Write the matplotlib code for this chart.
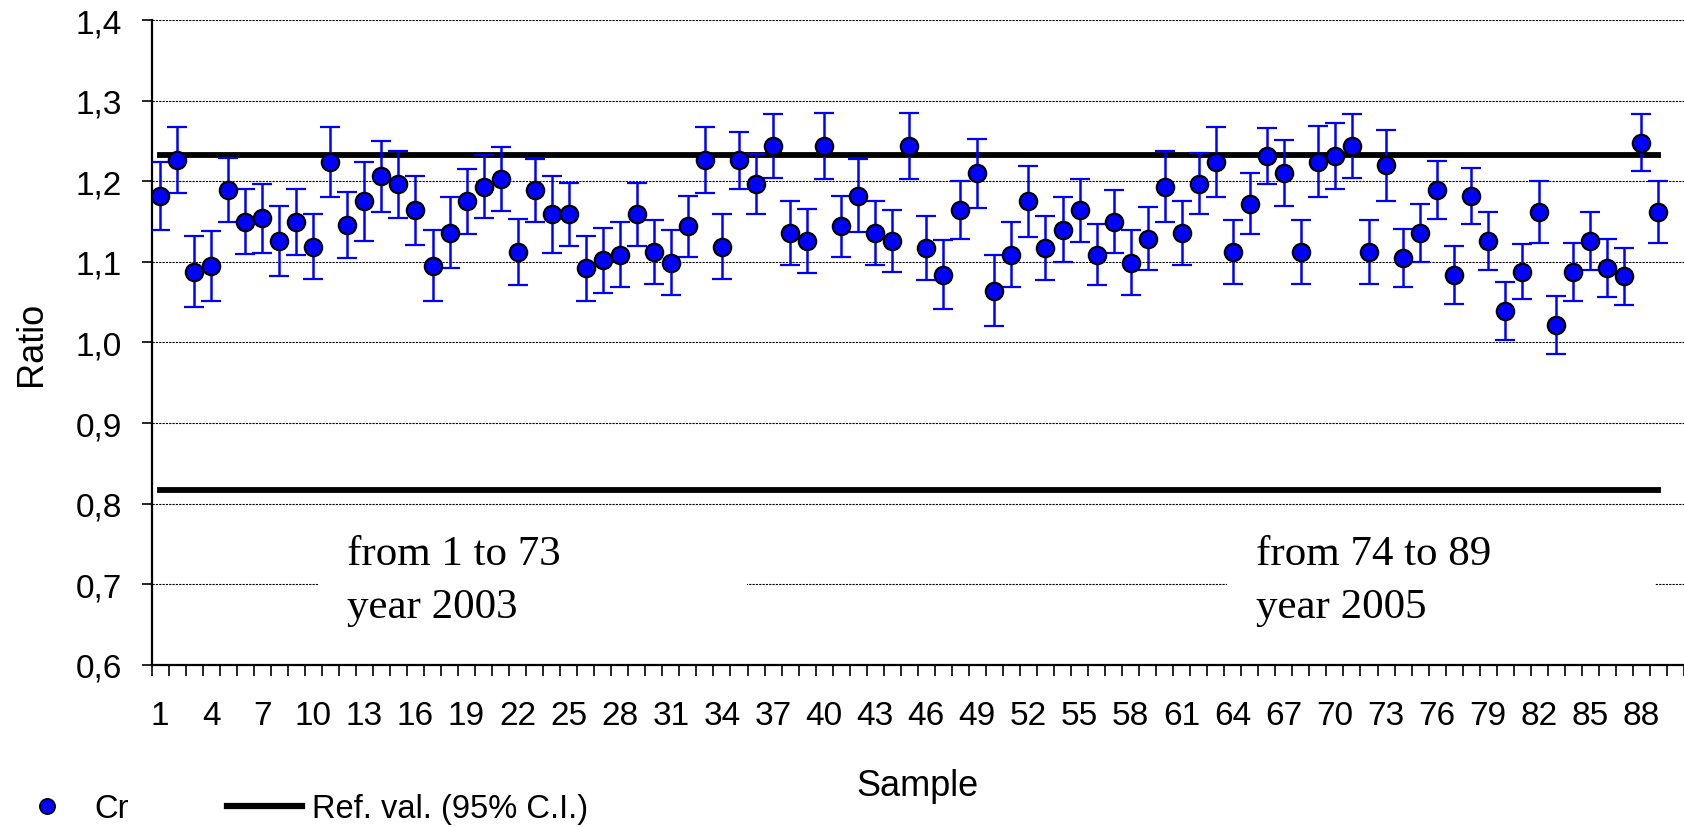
import matplotlib
matplotlib.use('Agg')
import matplotlib.pyplot as plt
from matplotlib.lines import Line2D
from matplotlib.patches import Rectangle
from matplotlib.ticker import FuncFormatter
import numpy as np

plt.rcParams['font.family'] = ['Liberation Sans', 'DejaVu Sans']

# Cr ratio per sample (1..89) with 95% C.I. half widths
ratio = [
    1.182, 1.226, 1.088, 1.095, 1.189, 1.150, 1.154, 1.126, 1.150, 1.119,
    1.224, 1.146, 1.175, 1.206, 1.196, 1.164, 1.095, 1.136, 1.175, 1.193,
    1.203, 1.112, 1.189, 1.159, 1.159, 1.092, 1.102, 1.109, 1.159, 1.112,
    1.099, 1.144, 1.226, 1.119, 1.226, 1.197, 1.244, 1.136, 1.126, 1.244,
    1.144, 1.182, 1.136, 1.126, 1.244, 1.117, 1.084, 1.164, 1.210, 1.064,
    1.109, 1.175, 1.117, 1.140, 1.164, 1.109, 1.150, 1.099, 1.129, 1.193,
    1.136, 1.197, 1.224, 1.112, 1.172, 1.231, 1.210, 1.112, 1.224, 1.231,
    1.244, 1.112, 1.220, 1.105, 1.136, 1.189, 1.084, 1.182, 1.126, 1.039,
    1.088, 1.162, 1.022, 1.088, 1.126, 1.092, 1.082, 1.248, 1.162]
err = [
    0.042, 0.041, 0.044, 0.043, 0.040, 0.040, 0.043, 0.043, 0.041, 0.040,
    0.043, 0.041, 0.049, 0.044, 0.042, 0.043, 0.044, 0.044, 0.040, 0.039,
    0.040, 0.041, 0.039, 0.048, 0.039, 0.040, 0.040, 0.040, 0.039, 0.040,
    0.040, 0.038, 0.041, 0.040, 0.035, 0.037, 0.040, 0.040, 0.040, 0.041,
    0.038, 0.045, 0.040, 0.038, 0.041, 0.040, 0.043, 0.036, 0.043, 0.044,
    0.040, 0.044, 0.040, 0.040, 0.039, 0.038, 0.039, 0.040, 0.039, 0.044,
    0.040, 0.038, 0.043, 0.040, 0.038, 0.035, 0.041, 0.040, 0.044, 0.041,
    0.040, 0.040, 0.044, 0.036, 0.036, 0.036, 0.036, 0.035, 0.036, 0.036,
    0.034, 0.038, 0.036, 0.036, 0.036, 0.036, 0.035, 0.035, 0.038]
samples = list(range(1, len(ratio) + 1))

ref_upper = 1.232
ref_lower = 0.817

yticks = [0.6, 0.7, 0.8, 0.9, 1.0, 1.1, 1.2, 1.3, 1.4]
xticks = list(range(1, 89, 3))

notes = [
    (12.0, ['from 1 to 73', 'year 2003'], (10.31, 35.48)),
    (65.34, ['from 74 to 89', 'year 2005'], (63.64, 88.82)),
]

fig = plt.figure(figsize=(16.84, 8.28), dpi=100)
ax = fig.add_axes([0.09, 0.1957, 0.91, 0.7789])

ax.set_xlim(0.5, 90.22)
ax.set_ylim(0.6, 1.4)
ax.set_axisbelow(True)
ax.yaxis.grid(True, color='black', linestyle=(0, (2, 1)), linewidth=0.8)

# reference interval lines
ax.plot(samples, [ref_upper] * len(samples), color='black', lw=4.2, zorder=2)
ax.plot(samples, [ref_lower] * len(samples), color='black', lw=4.2, zorder=2)

ax.errorbar(samples, ratio, yerr=err, fmt='o', color='#0000ff', ecolor='#0000ff',
            mfc='#0000ff', mec='black', ms=12.5, mew=1.6, elinewidth=1.8,
            capsize=7.5, capthick=1.8, zorder=3)

# white text boxes that cut the 0.7 gridline
for tx, lines, (x0, x1) in notes:
    ax.add_patch(Rectangle((x0, 0.64), x1 - x0, 0.135, facecolor='white',
                           edgecolor='none', zorder=1))
    ax.text(tx, 0.7253, lines[0], family='Liberation Serif', fontsize=31,
            va='baseline', ha='left', zorder=2.5)
    ax.text(tx, 0.6596, lines[1], family='Liberation Serif', fontsize=31,
            va='baseline', ha='left', zorder=2.5)

ax.set_yticks(yticks)
ax.yaxis.set_major_formatter(FuncFormatter(lambda v, p: f'{v:.1f}'.replace('.', ',')))
ax.tick_params(axis='y', direction='out', length=7.2, width=1.2, pad=14, labelsize=24)

ax.set_xticks(xticks)
ax.set_xticks(np.arange(0.5, 91, 1.0), minor=True)
ax.tick_params(axis='x', which='major', length=0, pad=25, labelsize=24)
ax.tick_params(axis='x', which='minor', direction='out', length=8, width=1.2)

for s in ['top', 'right']:
    ax.spines[s].set_visible(False)
for s in ['left', 'bottom']:
    ax.spines[s].set_linewidth(1.6)

ax.set_xlabel('Sample', fontsize=26, labelpad=27)
ax.set_ylabel('Ratio', fontsize=26, labelpad=19)

handles = [
    Line2D([], [], marker='o', ls='none', mfc='#0000ff', mec='black', ms=11, mew=1.2),
    Line2D([], [], color='black', lw=4.5),
]
fig.legend(handles, ['Cr', 'Ref. val. (95% C.I.)'], ncol=2, loc='center left',
           bbox_to_anchor=(9.5 / 1684, 1 - 810 / 828), frameon=False, fontsize=23.5,
           handlelength=2.3, handletextpad=0.3, columnspacing=3.0,
           borderpad=0, borderaxespad=0)

fig.savefig('out.png', dpi=100)
